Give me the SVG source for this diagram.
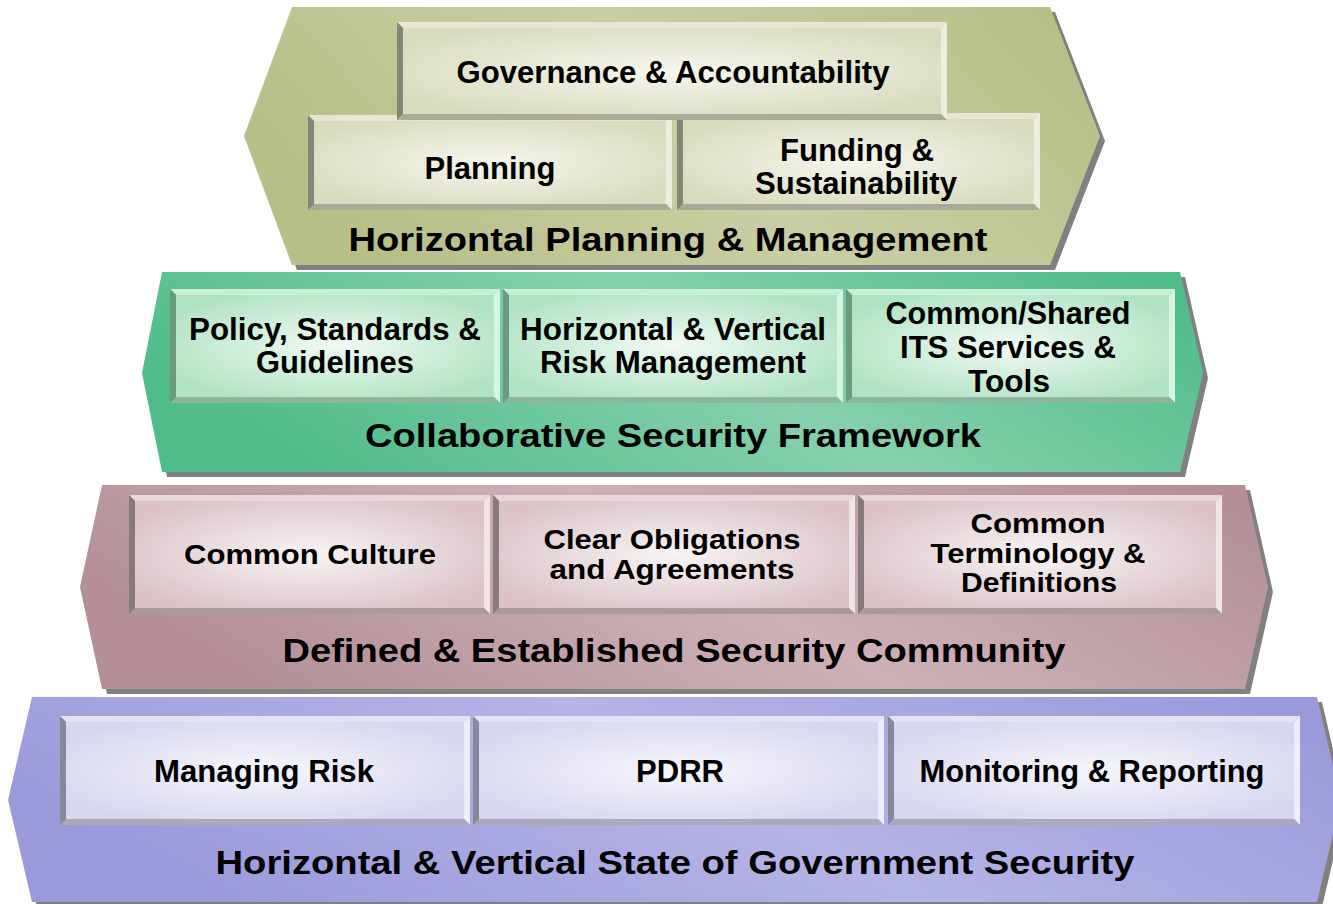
<svg xmlns="http://www.w3.org/2000/svg" width="1333" height="904" viewBox="0 0 1333 904">
<defs>
<style>
.sh{fill:#808080}
.t{font-family:"Liberation Sans",Arial,sans-serif;font-weight:bold;fill:#000;text-anchor:middle}
.bt{font-size:31px}
.bt4{font-size:32px}
.bt3{font-size:28px}
.lt{font-size:34px}
.o .tp{fill:#e6e6d2}.o .rt{fill:#eeeedf}.o .bm{fill:#a9aa98}.o .lf{fill:#85867a}
.g .tp{fill:#c8eed6}.g .rt{fill:#d8f4e2}.g .bm{fill:#8fb59e}.g .lf{fill:#6b9a7f}
.m .tp{fill:#e8d8db}.m .rt{fill:#f0e5e7}.m .bm{fill:#aa9a9d}.m .lf{fill:#877a7c}
.p .tp{fill:#e3e3f5}.p .rt{fill:#eeeef9}.p .bm{fill:#a9a9bb}.p .lf{fill:#88889c}
</style>
<linearGradient id="gO" x1="0.05" y1="0.64" x2="1.05" y2="0.36"><stop offset="0" stop-color="#b7be86"/><stop offset="0.5" stop-color="#cacfa4"/><stop offset="1" stop-color="#b7be86"/></linearGradient>
<linearGradient id="gG" x1="0.05" y1="0.64" x2="1.05" y2="0.36"><stop offset="0" stop-color="#50bc8a"/><stop offset="0.52" stop-color="#86d1ac"/><stop offset="1" stop-color="#50bc8a"/></linearGradient>
<linearGradient id="gM" x1="0.05" y1="0.64" x2="1.05" y2="0.36"><stop offset="0" stop-color="#b48f98"/><stop offset="0.5" stop-color="#cdb1b7"/><stop offset="1" stop-color="#b48f98"/></linearGradient>
<linearGradient id="gP" x1="0.05" y1="0.64" x2="1.05" y2="0.36"><stop offset="0" stop-color="#9a9adb"/><stop offset="0.5" stop-color="#b4b4e6"/><stop offset="1" stop-color="#9a9adb"/></linearGradient>
<radialGradient id="fO" cx="0.5" cy="0.5" r="0.6"><stop offset="0" stop-color="#f6f6ec"/><stop offset="1" stop-color="#d9dbbf"/></radialGradient>
<radialGradient id="fG" cx="0.5" cy="0.5" r="0.6"><stop offset="0" stop-color="#f0faf3"/><stop offset="1" stop-color="#b0e3c2"/></radialGradient>
<radialGradient id="fM" cx="0.5" cy="0.5" r="0.6"><stop offset="0" stop-color="#f8f3f4"/><stop offset="1" stop-color="#dbc3c8"/></radialGradient>
<radialGradient id="fP" cx="0.5" cy="0.5" r="0.6"><stop offset="0" stop-color="#f6f6fc"/><stop offset="1" stop-color="#d6d6ef"/></radialGradient>
</defs>
<rect width="1333" height="904" fill="#ffffff"/>

<!-- Tier 4 -->
<g id="tier4" class="p">
<polygon class="sh" points="37,702 1322,702 1346,805 1322,907 37,907 13,805"/>
<polygon fill="url(#gP)" points="32,697 1317,697 1341,800 1317,902 32,902 8,800"/>
<g id="box-managing-risk">
<polygon class="tp" points="60,716 470,716 464,722 66,722"/><polygon class="rt" points="470,716 470,825 464,819 464,722"/><polygon class="bm" points="60,825 470,825 464,819 66,819"/><polygon class="lf" points="60,716 66,722 66,819 60,825"/>
<rect x="66" y="722" width="398" height="97" fill="url(#fP)"/>
<text class="t bt4" x="264" y="782" textLength="220" lengthAdjust="spacingAndGlyphs">Managing Risk</text>
</g>
<g id="box-pdrr">
<polygon class="tp" points="473,716 884,716 878,722 479,722"/><polygon class="rt" points="884,716 884,825 878,819 878,722"/><polygon class="bm" points="473,825 884,825 878,819 479,819"/><polygon class="lf" points="473,716 479,722 479,819 473,825"/>
<rect x="479" y="722" width="399" height="97" fill="url(#fP)"/>
<text class="t bt4" x="680" y="782" textLength="88" lengthAdjust="spacingAndGlyphs">PDRR</text>
</g>
<g id="box-monitoring">
<polygon class="tp" points="888,716 1300,716 1294,722 894,722"/><polygon class="rt" points="1300,716 1300,825 1294,819 1294,722"/><polygon class="bm" points="888,825 1300,825 1294,819 894,819"/><polygon class="lf" points="888,716 894,722 894,819 888,825"/>
<rect x="894" y="722" width="400" height="97" fill="url(#fP)"/>
<text class="t bt4" x="1092" y="782" textLength="345" lengthAdjust="spacingAndGlyphs">Monitoring &amp; Reporting</text>
</g>
<text class="t lt" x="675" y="874" textLength="919" lengthAdjust="spacingAndGlyphs">Horizontal &amp; Vertical State of Government Security</text>
</g>

<!-- Tier 3 -->
<g id="tier3" class="m">
<polygon class="sh" points="107,490 1250,490 1273,592 1250,694 107,694 85,592"/>
<polygon fill="url(#gM)" points="102,485 1245,485 1268,587 1245,689 102,689 80,587"/>
<g id="box-common-culture">
<polygon class="tp" points="129,495 490,495 484,501 135,501"/><polygon class="rt" points="490,495 490,614 484,608 484,501"/><polygon class="bm" points="129,614 490,614 484,608 135,608"/><polygon class="lf" points="129,495 135,501 135,608 129,614"/>
<rect x="135" y="501" width="349" height="107" fill="url(#fM)"/>
<text class="t bt3" x="310" y="564" textLength="252" lengthAdjust="spacingAndGlyphs">Common Culture</text>
</g>
<g id="box-clear-obligations">
<polygon class="tp" points="493,495 855,495 849,501 499,501"/><polygon class="rt" points="855,495 855,614 849,608 849,501"/><polygon class="bm" points="493,614 855,614 849,608 499,608"/><polygon class="lf" points="493,495 499,501 499,608 493,614"/>
<rect x="499" y="501" width="350" height="107" fill="url(#fM)"/>
<text class="t bt3" x="672" y="549" textLength="257" lengthAdjust="spacingAndGlyphs">Clear Obligations</text>
<text class="t bt3" x="672" y="579" textLength="245" lengthAdjust="spacingAndGlyphs">and Agreements</text>
</g>
<g id="box-common-terminology">
<polygon class="tp" points="858,495 1222,495 1216,501 864,501"/><polygon class="rt" points="1222,495 1222,614 1216,608 1216,501"/><polygon class="bm" points="858,614 1222,614 1216,608 864,608"/><polygon class="lf" points="858,495 864,501 864,608 858,614"/>
<rect x="864" y="501" width="352" height="107" fill="url(#fM)"/>
<text class="t bt3" x="1038" y="533" textLength="135" lengthAdjust="spacingAndGlyphs">Common</text>
<text class="t bt3" x="1038" y="563" textLength="215" lengthAdjust="spacingAndGlyphs">Terminology &amp;</text>
<text class="t bt3" x="1039" y="592" textLength="156" lengthAdjust="spacingAndGlyphs">Definitions</text>
</g>
<text class="t lt" x="674" y="662" textLength="783" lengthAdjust="spacingAndGlyphs">Defined &amp; Established Security Community</text>
</g>

<!-- Tier 2 -->
<g id="tier2" class="g">
<polygon class="sh" points="167,277 1185,277 1208,378 1185,477 167,477 147,378"/>
<polygon fill="url(#gG)" points="162,272 1180,272 1203,373 1180,472 162,472 142,373"/>
<g id="box-policy">
<polygon class="tp" points="170,289 500,289 494,295 176,295"/><polygon class="rt" points="500,289 500,403 494,397 494,295"/><polygon class="bm" points="170,403 500,403 494,397 176,397"/><polygon class="lf" points="170,289 176,295 176,397 170,403"/>
<rect x="176" y="295" width="318" height="102" fill="url(#fG)"/>
<text class="t bt" x="335" y="340" textLength="292" lengthAdjust="spacingAndGlyphs">Policy, Standards &amp;</text>
<text class="t bt" x="335" y="373" textLength="158" lengthAdjust="spacingAndGlyphs">Guidelines</text>
</g>
<g id="box-risk-management">
<polygon class="tp" points="503,289 843,289 837,295 509,295"/><polygon class="rt" points="843,289 843,403 837,397 837,295"/><polygon class="bm" points="503,403 843,403 837,397 509,397"/><polygon class="lf" points="503,289 509,295 509,397 503,403"/>
<rect x="509" y="295" width="328" height="102" fill="url(#fG)"/>
<text class="t bt" x="673" y="340" textLength="306" lengthAdjust="spacingAndGlyphs">Horizontal &amp; Vertical</text>
<text class="t bt" x="673" y="373" textLength="266" lengthAdjust="spacingAndGlyphs">Risk Management</text>
</g>
<g id="box-shared-services">
<polygon class="tp" points="846,289 1175,289 1169,295 852,295"/><polygon class="rt" points="1175,289 1175,403 1169,397 1169,295"/><polygon class="bm" points="846,403 1175,403 1169,397 852,397"/><polygon class="lf" points="846,289 852,295 852,397 846,403"/>
<rect x="852" y="295" width="317" height="102" fill="url(#fG)"/>
<text class="t bt" x="1008" y="324" textLength="245" lengthAdjust="spacingAndGlyphs">Common/Shared</text>
<text class="t bt" x="1008" y="358" textLength="216" lengthAdjust="spacingAndGlyphs">ITS Services &amp;</text>
<text class="t bt" x="1009" y="392" textLength="82" lengthAdjust="spacingAndGlyphs">Tools</text>
</g>
<text class="t lt" x="673" y="447" textLength="616" lengthAdjust="spacingAndGlyphs">Collaborative Security Framework</text>
</g>

<!-- Tier 1 -->
<g id="tier1" class="o">
<polygon class="sh" points="297,12 1055,12 1105,141 1055,270 297,270 249,141"/>
<polygon fill="url(#gO)" points="292,7 1050,7 1100,136 1050,265 292,265 244,136"/>
<g id="box-planning">
<polygon class="tp" points="308,115 672,115 666,121 314,121"/><polygon class="rt" points="672,115 672,210 666,204 666,121"/><polygon class="bm" points="308,210 672,210 666,204 314,204"/><polygon class="lf" points="308,115 314,121 314,204 308,210"/>
<rect x="314" y="121" width="352" height="83" fill="url(#fO)"/>
<text class="t bt" x="490" y="179" textLength="131" lengthAdjust="spacingAndGlyphs">Planning</text>
</g>
<g id="box-funding">
<polygon class="tp" points="677,113 1040,113 1034,119 683,119"/><polygon class="rt" points="1040,113 1040,210 1034,204 1034,119"/><polygon class="bm" points="677,210 1040,210 1034,204 683,204"/><polygon class="lf" points="677,113 683,119 683,204 677,210"/>
<rect x="683" y="119" width="351" height="85" fill="url(#fO)"/>
<text class="t bt" x="857" y="161" textLength="154" lengthAdjust="spacingAndGlyphs">Funding &amp;</text>
<text class="t bt" x="856" y="194" textLength="202" lengthAdjust="spacingAndGlyphs">Sustainability</text>
</g>
<g id="box-governance">
<polygon class="tp" points="397,22 947,22 941,28 403,28"/><polygon class="rt" points="947,22 947,120 941,114 941,28"/><polygon class="bm" points="397,120 947,120 941,114 403,114"/><polygon class="lf" points="397,22 403,28 403,114 397,120"/>
<rect x="403" y="28" width="538" height="86" fill="url(#fO)"/>
<text class="t bt" x="673" y="83" textLength="433" lengthAdjust="spacingAndGlyphs">Governance &amp; Accountability</text>
</g>
<text class="t lt" x="668" y="251" textLength="639" lengthAdjust="spacingAndGlyphs">Horizontal Planning &amp; Management</text>
</g>
</svg>
